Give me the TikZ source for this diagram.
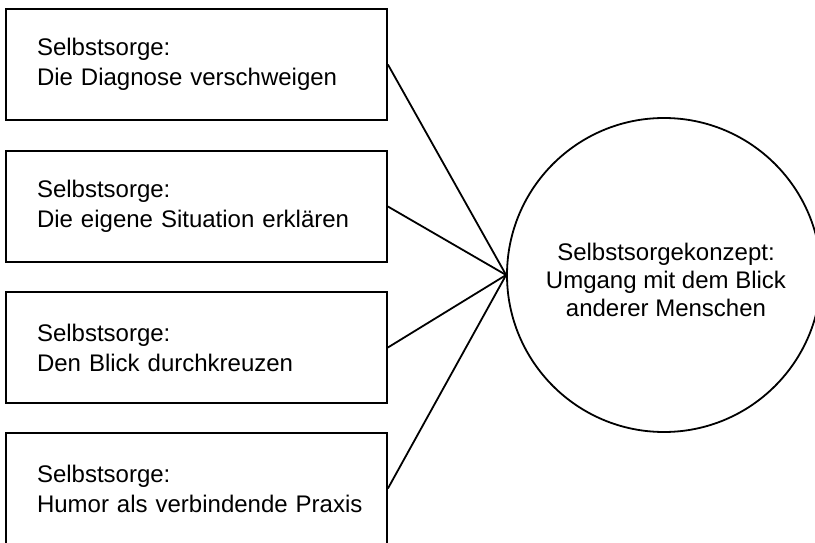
\documentclass[tikz,border=0pt]{standalone}
\usepackage{fontspec}
\setmainfont{Liberation Sans}
\begin{document}
\begin{tikzpicture}[x=1pt,y=-1pt,
  box/.style={draw,line width=1.8pt,minimum width=381pt,minimum height=111pt,
    text width=319pt,inner xsep=31pt,align=left,
    font=\fontsize{24}{30}\selectfont},
  concept/.style={draw,circle,line width=1.8pt,minimum size=314pt,inner sep=0pt,
    align=center,font=\fontsize{24}{28}\selectfont},
  link/.style={line width=1.8pt}]
\useasboundingbox (0,0) rectangle (815,543);
\clip (0,0) rectangle (815,543);
\node[box] (b1) at (196.5,64.5) {Selbstsorge:\\\mbox{Die Diagnose verschweigen}};
\node[box] (b2) at (196.5,206.5) {Selbstsorge:\\\mbox{Die eigene Situation erklären}};
\node[box] (b3) at (196.5,347.5) {Selbstsorge:\\\mbox{Den Blick durchkreuzen}};
\node[box] (b4) at (196.5,488.5) {Selbstsorge:\\\mbox{Humor als verbindende Praxis}};
\node[concept] (c) at (664,275) {};
\node[align=center,font=\fontsize{24}{28}\selectfont] (ct) at (666,280) {Selbstsorgekonzept:\\Umgang mit dem Blick\\anderer Menschen};
\foreach \b in {b1,b2,b3,b4} \draw[link] (\b.east) -- (c.west);
\end{tikzpicture}
\end{document}
